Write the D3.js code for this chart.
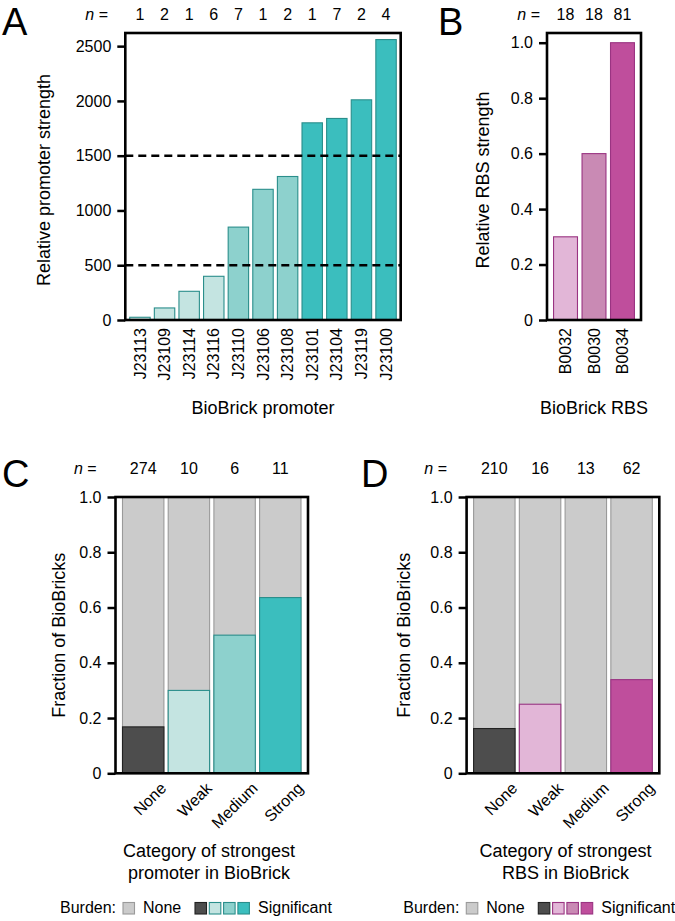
<!DOCTYPE html>
<html><head><meta charset="utf-8">
<script src="https://cdn.jsdelivr.net/npm/d3@7"></script>
<style>
html,body{margin:0;padding:0;background:#fff;}
svg{display:block;font-family:"Liberation Sans",Arial,Helvetica,sans-serif;}
</style></head>
<body>
<svg id="c" width="675" height="921"></svg>
<script>
// ---------- data ----------
const promoters = ["J23113","J23109","J23114","J23116","J23110","J23106","J23108","J23101","J23104","J23119","J23100"];
const promoterStrength = [25, 110, 262, 399, 848, 1193, 1310, 1800, 1840, 2010, 2560];
const promoterN = [1, 2, 1, 6, 7, 1, 2, 1, 7, 2, 4];
const promoterClass = ["Weak","Weak","Weak","Weak","Medium","Medium","Medium","Strong","Strong","Strong","Strong"];
const promoterThresholds = [500, 1500];
const promoterTicks = [0, 500, 1000, 1500, 2000, 2500];

const rbsParts = ["B0032","B0030","B0034"];
const rbsStrength = [0.3, 0.6, 1.0];
const rbsN = [18, 18, 81];
const rbsClass = ["Weak","Medium","Strong"];
const rbsTicks = [0, 0.2, 0.4, 0.6, 0.8, 1.0];

const categories = ["None","Weak","Medium","Strong"];
const promoterCatN = [274, 10, 6, 11];
const promoterCatBurden = [0.168, 0.30, 0.50, 0.636];
const rbsCatN = [210, 16, 13, 62];
const rbsCatBurden = [0.162, 0.25, 0.0, 0.339];
const fracTicks = [0, 0.2, 0.4, 0.6, 0.8, 1.0];

const tealFill = {None:"#4d4d4d", Weak:"#c4e4e1", Medium:"#8dd1cd", Strong:"#3bbebe"};
const tealStroke = {None:"#222222", Weak:"#2a8e8b", Medium:"#2a8e8b", Strong:"#2a8e8b"};
const pinkFill = {None:"#4d4d4d", Weak:"#e2b6d7", Medium:"#c98ab4", Strong:"#bf4e9c"};
const pinkStroke = {None:"#222222", Weak:"#9a3482", Medium:"#9a3482", Strong:"#9a3482"};
const grayFill = "#cbcbcb", grayStroke = "#9a9a9a";

// ---------- helpers ----------
const svg = d3.select("#c");
const FONT_TICK = 16, FONT_TITLE = 18;
const fmt = d => d === 0 ? "0" : (Number.isInteger(d) && d > 1 ? String(d) : d3.format(".1f")(d));

function panelLetter(t, x, y){
  svg.append("text").attr("x", x).attr("y", y).attr("font-size", 38).text(t);
}
function nRow(xEnd, y, xs, vals){
  const t = svg.append("text").attr("x", xEnd).attr("y", y).attr("text-anchor","end").attr("font-size", FONT_TICK);
  t.append("tspan").attr("font-style","italic").text("n");
  t.append("tspan").text(" =");
  svg.append("g").selectAll("text").data(vals).join("text")
    .attr("x", (d,i) => xs(i)).attr("y", y).attr("text-anchor","middle").attr("font-size", FONT_TICK)
    .text(d => d);
}
function yAxis(x, y, ticks){
  const g = svg.append("g").attr("transform", `translate(${x},0)`)
    .call(d3.axisLeft(y).tickValues(ticks).tickSize(8).tickPadding(6).tickFormat(fmt));
  g.select(".domain").remove();
  g.selectAll(".tick line").attr("stroke","#000").attr("stroke-width",2.5);
  g.selectAll(".tick text").attr("font-size", FONT_TICK).attr("font-family", null).attr("fill","#000");
  g.attr("font-family", null);
}
function frame(x0, x1, y0, y1){
  svg.append("rect").attr("x", x0).attr("y", y0).attr("width", x1-x0).attr("height", y1-y0)
    .attr("fill","none").attr("stroke","#000").attr("stroke-width",2.6);
}
function yTitle(text, x, cy){
  svg.append("text").attr("transform", `translate(${x},${cy}) rotate(-90)`)
    .attr("text-anchor","middle").attr("font-size", FONT_TITLE).text(text);
}

// ---------- Panel A ----------
{
  const L = 125.3, R = 400.7, T = 33, B = 320;
  const x = d3.scaleBand().domain(promoters).range([L, R]).paddingInner(0.17).paddingOuter(0.18);
  const y = d3.scaleLinear().domain([0, 2620]).range([B, T]);
  svg.append("g").selectAll("rect").data(promoters).join("rect")
    .attr("x", d => x(d)).attr("width", x.bandwidth())
    .attr("y", (d,i) => y(promoterStrength[i])).attr("height", (d,i) => B - y(promoterStrength[i]))
    .attr("fill", (d,i) => tealFill[promoterClass[i]]).attr("stroke", (d,i) => tealStroke[promoterClass[i]]).attr("stroke-width",1.1);
  svg.append("g").selectAll("line").data(promoterThresholds).join("line")
    .attr("x1", L).attr("x2", R).attr("y1", d => y(d)).attr("y2", d => y(d))
    .attr("stroke","#000").attr("stroke-width",2.4).attr("stroke-dasharray","8,5");
  yAxis(L, y, promoterTicks);
  frame(L, R, T, B);
  svg.append("g").selectAll("text").data(promoters).join("text")
    .attr("transform", d => `translate(${x(d)+x.bandwidth()/2},328) rotate(-90)`)
    .attr("text-anchor","end").attr("dy","0.35em").attr("font-size", FONT_TICK).text(d => d);
  nRow(108, 19.5, i => x(promoters[i]) + x.bandwidth()/2, promoterN);
  yTitle("Relative promoter strength", 49.5, 180);
  svg.append("text").attr("x", 263).attr("y", 414).attr("text-anchor","middle").attr("font-size", FONT_TITLE).text("BioBrick promoter");
  panelLetter("A", 2, 35);
}

// ---------- Panel B ----------
{
  const L = 547, R = 641, T = 33, B = 320;
  const x = d3.scaleBand().domain(rbsParts).range([L, R]).paddingInner(0.16).paddingOuter(0.23);
  const y = d3.scaleLinear().domain([0, 1.035]).range([B, T]);
  svg.append("g").selectAll("rect").data(rbsParts).join("rect")
    .attr("x", d => x(d)).attr("width", x.bandwidth())
    .attr("y", (d,i) => y(rbsStrength[i])).attr("height", (d,i) => B - y(rbsStrength[i]))
    .attr("fill", (d,i) => pinkFill[rbsClass[i]]).attr("stroke", (d,i) => pinkStroke[rbsClass[i]]).attr("stroke-width",1.1);
  yAxis(L, y, rbsTicks);
  frame(L, R, T, B);
  svg.append("g").selectAll("text").data(rbsParts).join("text")
    .attr("transform", d => `translate(${x(d)+x.bandwidth()/2},328) rotate(-90)`)
    .attr("text-anchor","end").attr("dy","0.35em").attr("font-size", FONT_TICK).text(d => d);
  nRow(540, 19.5, i => x(rbsParts[i]) + x.bandwidth()/2, rbsN);
  yTitle("Relative RBS strength", 488.5, 180);
  svg.append("text").attr("x", 594).attr("y", 414).attr("text-anchor","middle").attr("font-size", FONT_TITLE).text("BioBrick RBS");
  panelLetter("B", 438, 35);
}

// ---------- Panels C & D ----------
function fractionPanel(opts){
  const {L, R, T, B, nVals, fracs, fill, stroke, letter, letterX, nEnd, titleX, line1, line2, titleCx, legendX} = opts;
  const x = d3.scaleBand().domain(categories).range([L, R]).paddingInner(0.094).paddingOuter(0.153);
  const y = d3.scaleLinear().domain([0, 1]).range([B, T]);
  svg.append("g").selectAll("rect").data(categories).join("rect")
    .attr("x", d => x(d)).attr("width", x.bandwidth())
    .attr("y", y(1)).attr("height", B - y(1))
    .attr("fill", grayFill).attr("stroke", grayStroke).attr("stroke-width",1.1);
  svg.append("g").selectAll("rect").data(categories).join("rect")
    .attr("x", d => x(d)).attr("width", x.bandwidth())
    .attr("y", (d,i) => y(fracs[i])).attr("height", (d,i) => B - y(fracs[i]))
    .attr("fill", d => fill[d]).attr("stroke", d => stroke[d]).attr("stroke-width",1.1)
    .attr("display", (d,i) => fracs[i] > 0 ? null : "none");
  yAxis(L, y, fracTicks);
  frame(L, R, T, B);
  svg.append("g").selectAll("text").data(categories).join("text")
    .attr("transform", d => `translate(${x(d)+x.bandwidth()/2+24},${B+16}) rotate(-45)`)
    .attr("text-anchor","end").attr("font-size", FONT_TICK).text(d => d);
  nRow(nEnd, 474, i => x(categories[i]) + x.bandwidth()/2, nVals);
  yTitle("Fraction of BioBricks", titleX, (T+B)/2);
  svg.append("text").attr("x", titleCx).attr("y", 857).attr("text-anchor","middle").attr("font-size", FONT_TITLE).text(line1);
  svg.append("text").attr("x", titleCx).attr("y", 879).attr("text-anchor","middle").attr("font-size", FONT_TITLE).text(line2);
  panelLetter(letter, letterX, 487);
  // legend
  const ly = 902.5, sq = 11.5;
  svg.append("text").attr("x", legendX).attr("y", 913).attr("font-size", FONT_TICK).text("Burden:");
  svg.append("rect").attr("x", legendX+63).attr("y", ly).attr("width", sq).attr("height", sq)
    .attr("fill", grayFill).attr("stroke", grayStroke).attr("stroke-width",1.1);
  svg.append("text").attr("x", legendX+83).attr("y", 913).attr("font-size", FONT_TICK).text("None");
  svg.append("g").selectAll("rect").data(categories).join("rect")
    .attr("x", (d,i) => legendX + 135 + i*14.3).attr("y", ly).attr("width", sq).attr("height", sq)
    .attr("fill", d => fill[d]).attr("stroke", d => stroke[d]).attr("stroke-width",1.1);
  svg.append("text").attr("x", legendX+198).attr("y", 913).attr("font-size", FONT_TICK).text("Significant");
}

fractionPanel({L:115.5, R:308, T:497, B:773.3, nVals:promoterCatN, fracs:promoterCatBurden,
  fill:tealFill, stroke:tealStroke, letter:"C", letterX:2, nEnd:96.7, titleX:65,
  line1:"Category of strongest", line2:"promoter in BioBrick", titleCx:209, legendX:60});
fractionPanel({L:466.6, R:659.3, T:497, B:773.3, nVals:rbsCatN, fracs:rbsCatBurden,
  fill:pinkFill, stroke:pinkStroke, letter:"D", letterX:361, nEnd:447, titleX:410,
  line1:"Category of strongest", line2:"RBS in BioBrick", titleCx:565.5, legendX:403.3});
</script>
</body></html>
